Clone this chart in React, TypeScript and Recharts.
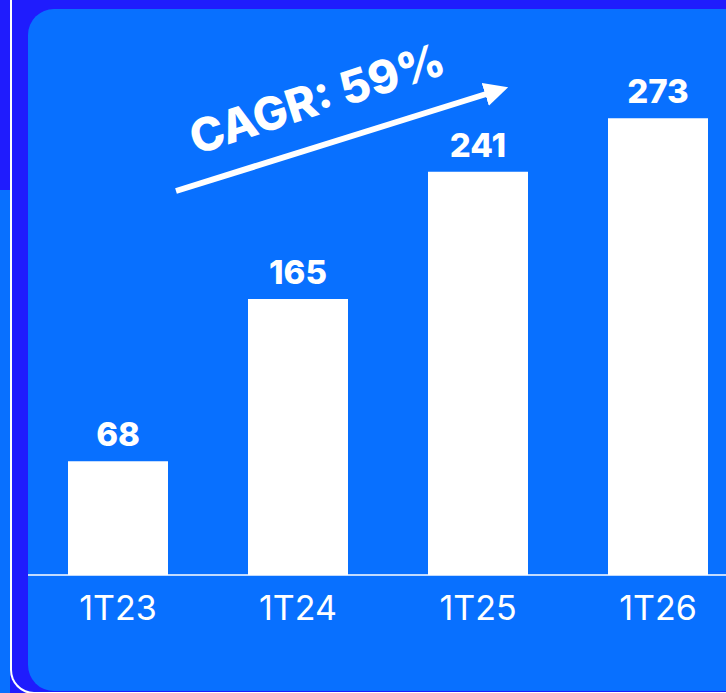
import { BarChart, Bar, XAxis, YAxis, LabelList, Customized } from "recharts";

const quarters = ["1T23", "1T24", "1T25", "1T26"];
const values = [68, 165, 241, 273];
const cagrLabel = "CAGR: 59%";

const data = quarters.map((q, i) => ({ quarter: q, value: values[i] }));

const PANEL = "#0870ff";
const FRAME = "#1f1cfd";

function QuarterTick(props: any) {
  const { x, y, payload } = props;
  return (
    <text
      x={x}
      y={y + 45}
      textAnchor="middle"
      fill="#ffffff"
      fontSize={34}
      fontFamily="Inter, 'Noto Sans', sans-serif"
      fontWeight={400}
    >
      {payload.value}
    </text>
  );
}

// annotation: arrow + CAGR text
function CagrArrow() {
  return (
    <g>
      <defs>
        <marker
          id="arrowHead"
          viewBox="0 0 10 10"
          refX="6"
          refY="5"
          markerWidth="4"
          markerHeight="4"
          orient="auto"
        >
          <path d="M0,0 L10,5 L0,10 z" fill="#ffffff" />
        </marker>
      </defs>
      <line
        x1={176}
        y1={191}
        x2={499}
        y2={90}
        stroke="#ffffff"
        strokeWidth={6}
        markerEnd="url(#arrowHead)"
      />
      <text
        x={322}
        y={114}
        textAnchor="middle"
        fill="#ffffff"
        fontSize={46}
        fontWeight={800}
        fontFamily="Inter, 'Noto Sans', sans-serif"
        transform="rotate(-18 322 114)"
      >
        {cagrLabel}
      </text>
    </g>
  );
}

export default function App() {
  return (
    <div
      style={{
        position: "absolute",
        left: 0,
        top: 0,
        width: 726,
        height: 693,
        overflow: "hidden",
        background: FRAME,
      }}
    >
      {/* left strip below the top part */}
      <div
        style={{
          position: "absolute",
          left: 0,
          top: 190,
          width: 10,
          height: 503,
          background: PANEL,
        }}
      />
      {/* thin white frame line */}
      <div
        style={{
          position: "absolute",
          left: 10,
          top: -20,
          width: 760,
          height: 714,
          borderLeft: "2px solid #ffffff",
          borderBottom: "2px solid #ffffff",
          borderBottomLeftRadius: 24,
          boxSizing: "border-box",
        }}
      />
      {/* main panel */}
      <div
        style={{
          position: "absolute",
          left: 28,
          top: 9,
          width: 760,
          height: 682,
          background: PANEL,
          borderRadius: 26,
        }}
      />
      <div style={{ position: "absolute", left: 0, top: 0 }}>
        <BarChart
          width={760}
          height={693}
          data={data}
          margin={{ top: 73, right: 12, left: 28, bottom: 0 }}
          barSize={100}
        >
          <XAxis
            dataKey="quarter"
            axisLine={{ stroke: "#ffffff", strokeWidth: 1.5 }}
            tickLine={false}
            tickSize={0}
            tickMargin={0}
            height={118}
            tick={<QuarterTick />}
            interval={0}
          />
          <YAxis hide domain={[0, 300]} />
          <Bar dataKey="value" fill="#ffffff" isAnimationActive={false}>
            <LabelList
              dataKey="value"
              position="top"
              offset={15}
              fill="#ffffff"
              fontSize={33}
              fontWeight={800}
              fontFamily="Inter, 'Noto Sans', sans-serif"
            />
          </Bar>
          <Customized component={CagrArrow} />
        </BarChart>
      </div>
    </div>
  );
}
